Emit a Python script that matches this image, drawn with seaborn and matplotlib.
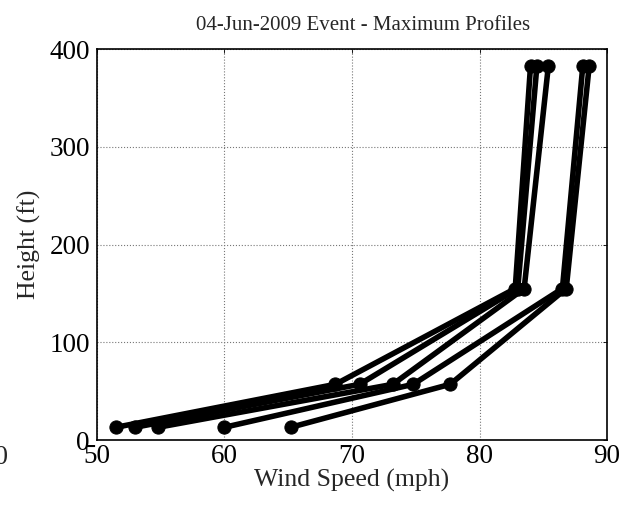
import matplotlib
matplotlib.use("Agg")
import matplotlib.pyplot as plt
import seaborn as sns
import pandas as pd

heights = [13, 57, 155, 383]
profile_1 = [51.5, 68.7, 82.8, 84.0]
profile_2 = [53.0, 70.6, 83.0, 84.5]
profile_3 = [54.8, 73.2, 83.5, 85.4]
profile_4 = [60.0, 74.8, 86.5, 88.1]
profile_5 = [65.2, 77.7, 86.8, 88.6]
profiles = [profile_1, profile_2, profile_3, profile_4, profile_5]
x_ticks = [50, 60, 70, 80, 90]
y_ticks = [0, 100, 200, 300, 400]

rows = []
for i, prof in enumerate(profiles):
    for h, s in zip(heights, prof):
        rows.append({"profile": i, "speed": s, "height": h})
df = pd.DataFrame(rows)

sns.set_style("white")
plt.rcParams["font.family"] = ["Liberation Serif", "DejaVu Serif"]
plt.rcParams["xtick.direction"] = "in"
plt.rcParams["ytick.direction"] = "in"

fig = plt.figure(figsize=(6.37, 5.12), dpi=100)
ax = fig.add_axes([0.152, 0.1406, 0.801, 0.7634])

sns.lineplot(data=df, x="speed", y="height", units="profile", estimator=None,
             sort=False, color="black", marker="o", linewidth=4.0,
             markersize=9.5, markeredgecolor="black", ax=ax, legend=False)

ax.set_xlim(50, 90)
ax.set_ylim(0, 400)
ax.set_xticks(x_ticks)
ax.set_yticks(y_ticks)
ax.tick_params(labelsize=19.5, length=3, width=0.6, top=True, right=True,
               labeltop=False, labelright=False, colors="black")
ax.tick_params(axis="x", pad=3)
ax.tick_params(axis="y", pad=5)
ax.grid(True, linestyle=":", color="#777777", linewidth=0.8)
for sp in ax.spines.values():
    sp.set_visible(True)
    sp.set_color("black")
    sp.set_linewidth(1.2)

ax.set_xlabel("Wind Speed (mph)", fontsize=18.5, labelpad=0)
ax.set_ylabel("Height (ft)", fontsize=18.5, labelpad=6)
ax.set_title("04-Jun-2009 Event - Maximum Profiles", fontsize=15, pad=14,
             x=0.522)

fig.text(8 / 637, 1 - 457 / 512, "40", fontsize=19.5, ha="right", va="center")

fig.savefig("out.png", dpi=100)
